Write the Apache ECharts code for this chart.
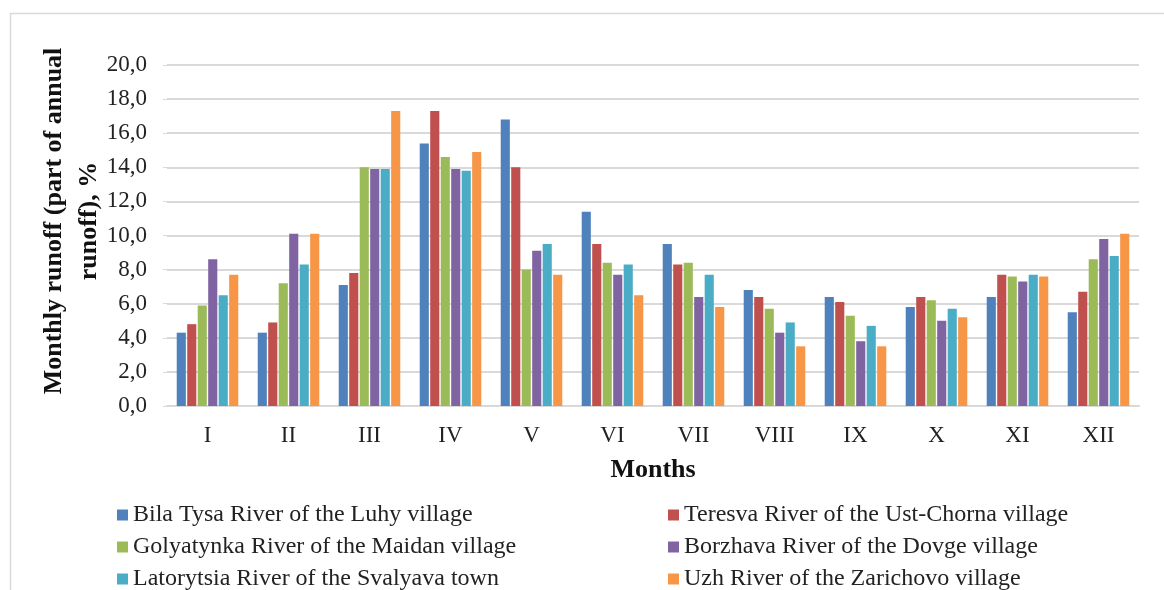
<!DOCTYPE html>
<html>
<head>
<meta charset="utf-8">
<script src="https://cdn.jsdelivr.net/npm/echarts@6/dist/echarts.min.js"></script>
<style>
  html, body { margin: 0; padding: 0; background: #fff; }
  #chart { width: 1164px; height: 590px; }
</style>
</head>
<body>
<div id="chart"></div>
<script>
var months = ['I', 'II', 'III', 'IV', 'V', 'VI', 'VII', 'VIII', 'IX', 'X', 'XI', 'XII'];
var seriesNames = [
  'Bila Tysa River of the Luhy village',
  'Teresva River of the Ust-Chorna village',
  'Golyatynka River of the Maidan village',
  'Borzhava River of the Dovge village',
  'Latorytsia River of the Svalyava town',
  'Uzh River of the Zarichovo village'
];
var bilaTysa   = [4.3, 4.3, 7.1, 15.4, 16.8, 11.4, 9.5, 6.8, 6.4, 5.8, 6.4, 5.5];
var teresva    = [4.8, 4.9, 7.8, 17.3, 14.0, 9.5, 8.3, 6.4, 6.1, 6.4, 7.7, 6.7];
var golyatynka = [5.9, 7.2, 14.0, 14.6, 8.0, 8.4, 8.4, 5.7, 5.3, 6.2, 7.6, 8.6];
var borzhava   = [8.6, 10.1, 13.9, 13.9, 9.1, 7.7, 6.4, 4.3, 3.8, 5.0, 7.3, 9.8];
var latorytsia = [6.5, 8.3, 13.9, 13.8, 9.5, 8.3, 7.7, 4.9, 4.7, 5.7, 7.7, 8.8];
var uzh        = [7.7, 10.1, 17.3, 14.9, 7.7, 6.5, 5.8, 3.5, 3.5, 5.2, 7.6, 10.1];
var colors = ['#4f81bd', '#c0504d', '#9bbb59', '#8064a2', '#4bacc6', '#f79646'];
var values = [bilaTysa, teresva, golyatynka, borzhava, latorytsia, uzh];

var serif = '"Liberation Serif", "DejaVu Serif", serif';

var series = [];
for (var i = 0; i < seriesNames.length; i++) {
  series.push({
    name: seriesNames[i],
    type: 'bar',
    barGap: '15%',
    barCategoryGap: '24%',
    itemStyle: { color: colors[i] },
    data: values[i]
  });
}

var legendText = { fontFamily: serif, fontSize: 24, color: '#222' };

var option = {
  animation: false,
  color: colors,
  graphic: [
    {
      type: 'rect',
      shape: { x: 10.5, y: 13.5, width: 1300, height: 700 },
      style: { fill: null, stroke: '#d9d9d9', lineWidth: 1.5 },
      silent: true
    },
    {
      type: 'text',
      x: 72,
      y: 221,
      rotation: Math.PI / 2,
      style: {
        text: 'Monthly runoff (part of annual\nrunoff), %',
        fontFamily: serif,
        fontSize: 26,
        fontWeight: 'bold',
        fill: '#111',
        align: 'center',
        verticalAlign: 'middle',
        lineHeight: 35
      }
    }
  ],
  grid: { left: 167, right: 25, top: 65, bottom: 184 },
  legend: [
    {
      orient: 'vertical',
      left: 112,
      top: 498,
      height: 110,
      itemWidth: 11,
      itemHeight: 11,
      itemGap: 8,
      icon: 'rect',
      textStyle: legendText,
      data: [seriesNames[0], seriesNames[2], seriesNames[4]]
    },
    {
      orient: 'vertical',
      left: 663,
      top: 498,
      height: 110,
      itemWidth: 11,
      itemHeight: 11,
      itemGap: 8,
      icon: 'rect',
      textStyle: legendText,
      data: [seriesNames[1], seriesNames[3], seriesNames[5]]
    }
  ],
  xAxis: {
    type: 'category',
    data: months,
    name: 'Months',
    nameLocation: 'middle',
    nameGap: 51,
    nameTextStyle: { fontFamily: serif, fontSize: 26, fontWeight: 'bold', color: '#111' },
    axisLine: { lineStyle: { color: '#d9d9d9', width: 2 } },
    axisTick: { show: false },
    axisLabel: { fontFamily: serif, fontSize: 23, color: '#222', margin: 18 }
  },
  yAxis: {
    type: 'value',
    min: 0,
    max: 20,
    interval: 2,
    axisLine: { show: false },
    axisTick: { show: true, length: 4, lineStyle: { color: '#d9d9d9' } },
    axisLabel: {
      fontFamily: serif,
      fontSize: 23,
      color: '#222',
      margin: 20,
      formatter: function (v) { return v.toFixed(1).replace('.', ','); }
    },
    splitLine: { lineStyle: { color: '#d9d9d9', width: 2 } }
  },
  series: series
};

var chart = echarts.init(document.getElementById('chart'));
chart.setOption(option);
</script>
</body>
</html>
